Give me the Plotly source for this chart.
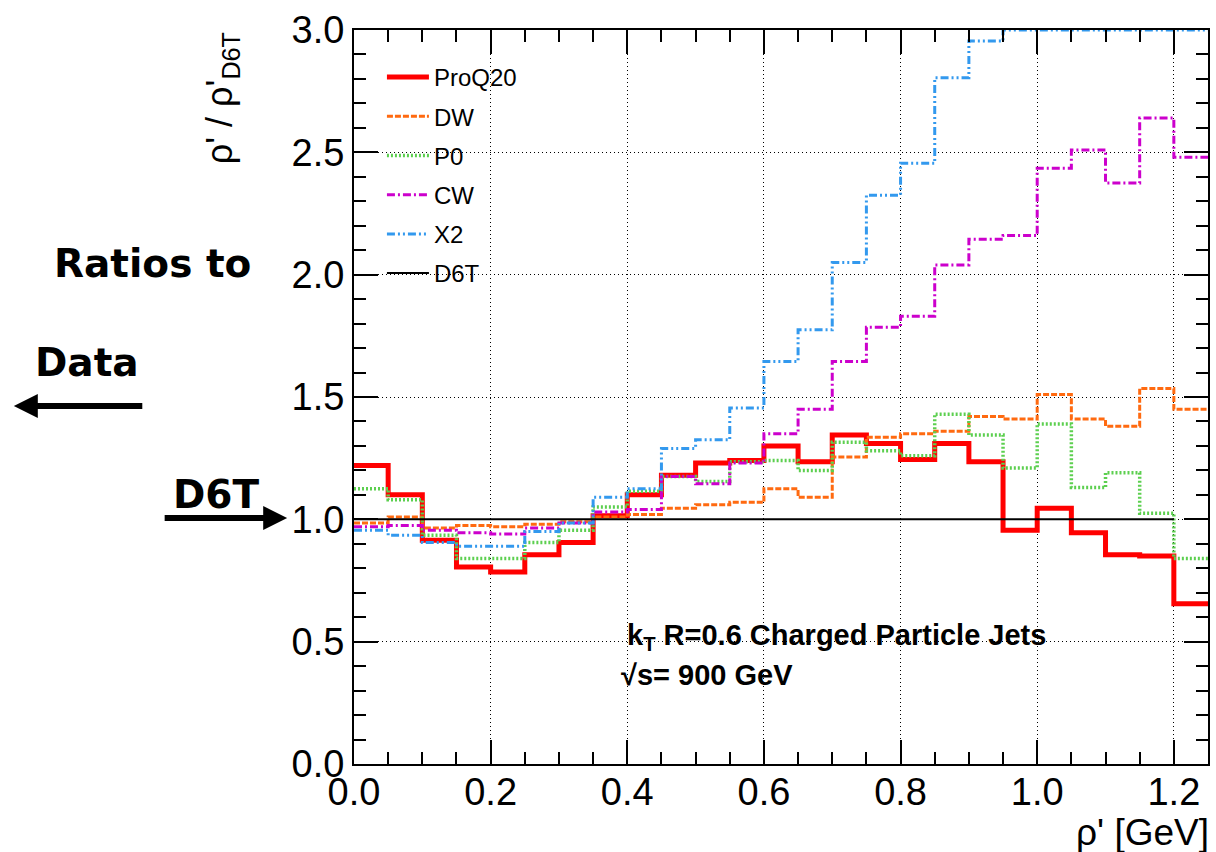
import plotly.graph_objects as go

# bin edges (GeV)
edges = [0.00, 0.05, 0.10, 0.15, 0.20, 0.25, 0.30, 0.35, 0.40, 0.45, 0.50, 0.55, 0.60,
         0.65, 0.70, 0.75, 0.80, 0.85, 0.90, 0.95, 1.00, 1.05, 1.10, 1.15, 1.20, 1.25]

proq20 = [1.22, 1.10, 0.915, 0.805, 0.785, 0.855, 0.905, 1.015, 1.10, 1.18, 1.23, 1.24, 1.30,
          1.235, 1.345, 1.31, 1.245, 1.31, 1.235, 0.955, 1.045, 0.945, 0.855, 0.85, 0.655]
dw = [0.985, 1.01, 0.965, 0.975, 0.97, 0.98, 0.99, 1.01, 1.02, 1.045, 1.06, 1.07, 1.125,
      1.09, 1.255, 1.335, 1.35, 1.36, 1.42, 1.41, 1.51, 1.41, 1.38, 1.535, 1.45]
p0 = [1.125, 1.08, 0.935, 0.84, 0.84, 0.905, 0.955, 1.05, 1.115, 1.175, 1.155, 1.235, 1.24,
      1.20, 1.315, 1.28, 1.26, 1.43, 1.345, 1.21, 1.39, 1.13, 1.19, 1.025, 0.84]
cw = [0.97, 0.975, 0.955, 0.945, 0.94, 0.965, 0.985, 1.03, 1.04, 1.175, 1.145, 1.23, 1.35,
      1.45, 1.645, 1.785, 1.83, 2.04, 2.145, 2.16, 2.435, 2.51, 2.375, 2.64, 2.48]
x2 = [0.955, 0.935, 0.905, 0.89, 0.89, 0.95, 0.985, 1.09, 1.125, 1.29, 1.325, 1.455, 1.645,
      1.775, 2.05, 2.325, 2.455, 2.805, 2.955, 3.0, 3.0, 3.0, 3.0, 3.0, 3.0]
d6t = [1.0] * 24  # reference ends at 1.2

series = [
    ("ProQ20", proq20, dict(color="#ff0000", width=5)),
    ("DW", dw, dict(color="#ff6a10", width=3, dash="6px,2px")),
    ("P0", p0, dict(color="#5ccf4f", width=3.5, dash="2px,2px")),
    ("CW", cw, dict(color="#cc00cc", width=3, dash="8px,3px,2px,3px")),
    ("X2", x2, dict(color="#3399ee", width=3, dash="8px,3px,2px,3px,2px,3px")),
    ("D6T", d6t, dict(color="#000000", width=2)),
]

FONT = "Liberation Sans, Arial, sans-serif"
BOLD2 = "DejaVu Sans, Liberation Sans, Arial, sans-serif"

fig = go.Figure()
for name, vals, line in series:
    xs = edges[:len(vals) + 1]
    ys = list(vals) + [vals[-1]]
    fig.add_trace(go.Scatter(x=xs, y=ys, mode="lines", name=name, line=line,
                             line_shape="hv", legendgroup=name))

axis_common = dict(
    showline=True, linecolor="black", linewidth=2, mirror="ticks",
    ticks="inside", ticklen=24, tickwidth=1.5, tickcolor="black",
    showgrid=True, gridcolor="black", gridwidth=1, griddash="1px,3px",
    zeroline=False, tickformat=".1f",
    tickfont=dict(family=FONT, size=38, color="black"),
)

fig.update_xaxes(range=[0, 1.25], dtick=0.2, tick0=0, ticklabelstandoff=-7,
                 minor=dict(ticks="inside", ticklen=12, dtick=0.05, tickcolor="black",
                            tickwidth=1.5, showgrid=False),
                 **axis_common)
fig.update_yaxes(range=[0, 3.0], dtick=0.5, tick0=0,
                 minor=dict(ticks="inside", ticklen=12, dtick=0.1, tickcolor="black",
                            tickwidth=1.5, showgrid=False),
                 **axis_common)

def px2paper(px, py):
    return (px - 354) / 856, (764 - py) / 734

ann = []
# y-axis title
x_, y_ = px2paper(222, 30)
ann.append(dict(x=x_, y=1.0, xref="paper", yref="paper", xanchor="center", yanchor="top",
                text="ρ' / ρ'<sub>D6T</sub>", textangle=-90, showarrow=False,
                font=dict(family=FONT, size=36, color="black")))
# x-axis title
x_, y_ = px2paper(1213, 832)
ann.append(dict(x=x_, y=y_, xref="paper", yref="paper", xanchor="right", yanchor="middle",
                text="ρ' [GeV]", showarrow=False,
                font=dict(family=FONT, size=37, color="black")))
# in-plot labels
x_, y_ = px2paper(626, 637)
ann.append(dict(x=x_, y=y_, xref="paper", yref="paper", xanchor="left", yanchor="middle",
                text="<b>k<sub>T</sub> R=0.6 Charged Particle Jets</b>", showarrow=False,
                font=dict(family=FONT, size=29, color="black")))
x_, y_ = px2paper(620, 675)
ann.append(dict(x=x_, y=y_, xref="paper", yref="paper", xanchor="left", yanchor="middle",
                text="<b>√s= 900 GeV</b>", showarrow=False,
                font=dict(family=FONT, size=29, color="black")))
# left side labels
for txt, (cx, cy) in [("Ratios to", (152, 263)), ("Data", (86, 362)), ("D6T", (216, 494))]:
    x_, y_ = px2paper(cx, cy)
    ann.append(dict(x=x_, y=y_, xref="paper", yref="paper", xanchor="center", yanchor="middle",
                    text=f"<b>{txt}</b>", showarrow=False,
                    font=dict(family=BOLD2, size=39, color="black")))
# arrows
x_, y_ = px2paper(13, 406)
ann.append(dict(x=x_, y=y_, xref="paper", yref="paper", text="", showarrow=True,
                ax=130, ay=0, axref="pixel", ayref="pixel",
                arrowhead=2, arrowsize=0.8, arrowwidth=6, arrowcolor="black"))
x_, y_ = px2paper(287, 518)
ann.append(dict(x=x_, y=y_, xref="paper", yref="paper", text="", showarrow=True,
                ax=-124, ay=0, axref="pixel", ayref="pixel",
                arrowhead=2, arrowsize=0.8, arrowwidth=6, arrowcolor="black"))

lx, ly = px2paper(382, 55)
fig.update_layout(
    width=1216, height=852,
    margin=dict(l=354, r=6, t=30, b=88),
    paper_bgcolor="white", plot_bgcolor="white",
    font=dict(family=FONT, color="black"),
    showlegend=True,
    legend=dict(x=lx, y=ly, xanchor="left", yanchor="top",
                bgcolor="rgba(255,255,255,0)", borderwidth=0,
                font=dict(family=FONT, size=24, color="black"),
                itemwidth=42,
                tracegroupgap=5, traceorder="grouped"),
    annotations=ann,
)

fig.write_html("out.html")
